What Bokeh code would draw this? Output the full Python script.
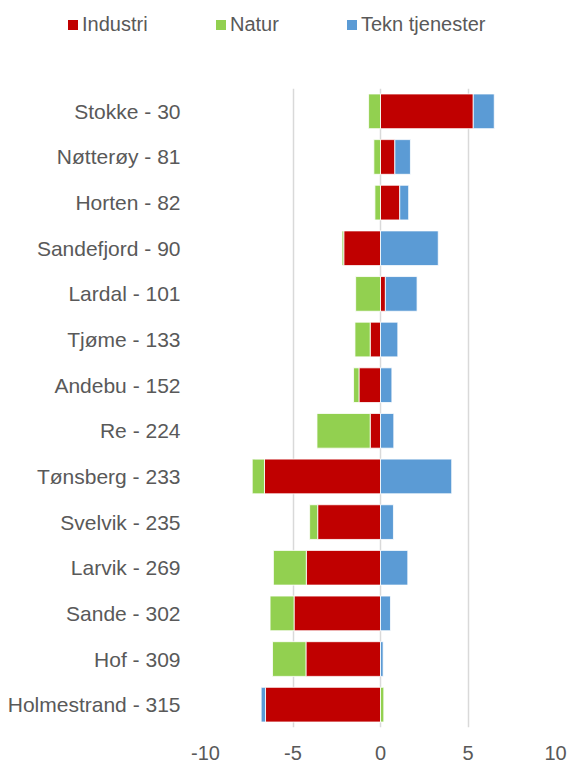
from bokeh.plotting import figure
from bokeh.models import FactorRange, ColumnDataSource, FixedTicker, Div
from bokeh.layouts import column
from bokeh.embed import file_html
from bokeh.resources import INLINE

categories = ["Stokke - 30", "Nøtterøy - 81", "Horten - 82", "Sandefjord - 90", "Lardal - 101",
              "Tjøme - 133", "Andebu - 152", "Re - 224", "Tønsberg - 233", "Svelvik - 235",
              "Larvik - 269", "Sande - 302", "Hof - 309", "Holmestrand - 315"]
industri = [5.3, 0.82, 1.1, -2.1, 0.28, -0.59, -1.23, -0.59, -6.63, -3.59, -4.24, -4.94, -4.26, -6.57]
natur = [-0.68, -0.38, -0.32, -0.1, -1.42, -0.87, -0.31, -3.04, -0.7, -0.46, -1.88, -1.37, -1.91, 0.19]
tekn = [1.2, 0.89, 0.51, 3.3, 1.81, 0.99, 0.65, 0.76, 4.07, 0.74, 1.56, 0.57, 0.15, -0.25]
series_names = ["Industri", "Natur", "Tekn tjenester"]
series_colors = ["#C00000", "#92D050", "#5B9BD5"]
x_ticks = [-10, -5, 0, 5, 10]

FONT = "Liberation Sans"
TXT = "#595959"

# main chart
p = figure(width=569, height=675, output_backend="svg", toolbar_location=None,
           y_range=FactorRange(*list(reversed(categories)), range_padding=0),
           x_range=(-10, 10),
           min_border_left=205, min_border_right=14, min_border_top=0, min_border_bottom=36)
p.outline_line_color = None

pos = [0.0] * len(categories)
neg = [0.0] * len(categories)
for name, vals, col in zip(series_names, [industri, natur, tekn], series_colors):
    left, right = [], []
    for i, v in enumerate(vals):
        if v >= 0:
            left.append(pos[i]); right.append(pos[i] + v); pos[i] += v
        else:
            right.append(neg[i]); left.append(neg[i] + v); neg[i] += v
    src = ColumnDataSource(dict(y=categories, left=left, right=right))
    p.hbar(y="y", left="left", right="right", height=0.76, source=src,
           fill_color=col, line_color="white", line_width=0.8)

p.xaxis.ticker = FixedTicker(ticks=x_ticks)
p.xaxis.major_label_overrides = {t: str(t) for t in x_ticks}
p.xgrid.ticker = FixedTicker(ticks=x_ticks)
p.xgrid.grid_line_color = "#D9D9D9"
p.xgrid.grid_line_width = 1.5
p.ygrid.grid_line_color = None

for ax in [p.xaxis[0], p.yaxis[0]]:
    ax.axis_line_color = None
    ax.major_tick_line_color = None
    ax.minor_tick_line_color = None
    ax.major_label_text_font = FONT
    ax.major_label_text_color = TXT
p.xaxis.major_label_standoff = 12
p.xaxis.major_label_text_font_size = "20px"
p.yaxis.major_label_text_font_size = "21px"
p.yaxis.major_label_standoff = 19

# legend strip above the chart (HTML text)
legend_left = [68, 216, 347]
parts = []
for name, col, lx in zip(series_names, series_colors, legend_left):
    parts.append(
        f'<span style="position:absolute;left:{lx}px;top:20px;width:10px;height:10px;background:{col};"></span>'
        f'<span style="position:absolute;left:{lx + 14}px;top:12px;line-height:24px;'
        f'font-family:\'{FONT}\';font-size:20px;color:{TXT};white-space:nowrap;">{name}</span>'
    )
html = '<div style="position:relative;width:569px;height:88px;">' + "".join(parts) + "</div>"
lg = Div(text=html, width=569, height=88, margin=0)

layout = column(lg, p, spacing=0)
open("out.html", "w").write(file_html(layout, INLINE))
